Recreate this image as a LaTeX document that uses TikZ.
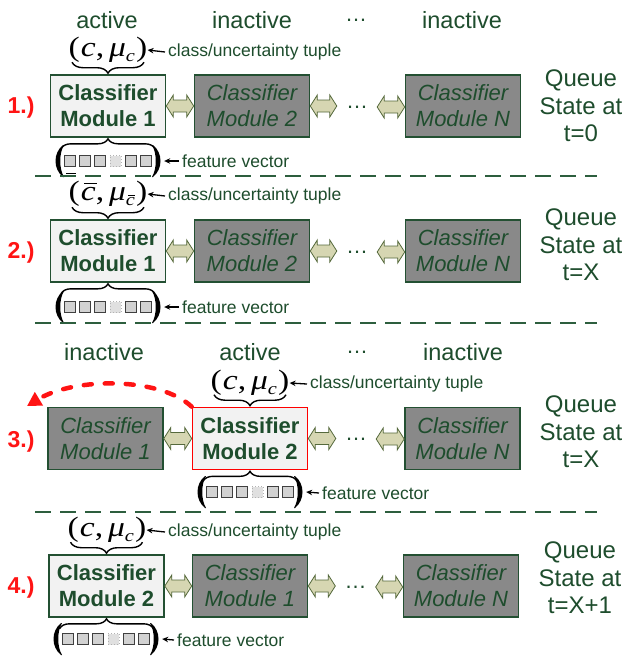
\documentclass[tikz,border=0pt]{standalone}
\usepackage{graphicx}
\usepackage{fontspec}
\setmainfont{Liberation Sans}
\newfontfamily\tupfont{Liberation Serif}
\usetikzlibrary{decorations.pathreplacing,arrows.meta,calc}
\definecolor{dgreen}{RGB}{30,77,45}
\definecolor{boxline}{RGB}{35,80,50}
\definecolor{lightfill}{RGB}{242,242,242}
\definecolor{darkfill}{RGB}{137,137,137}
\definecolor{arrfill}{RGB}{214,214,178}
\definecolor{arrline}{RGB}{85,105,60}
\definecolor{qred}{RGB}{255,20,20}
\definecolor{sqfill}{RGB}{210,210,210}
\definecolor{sepcol}{RGB}{45,94,62}
\newcommand\cbarglyph{\ooalign{\textit{c}\cr\hidewidth\kern0.12em\raisebox{0.6em}{\rule{0.36em}{0.05em}}\hidewidth\cr}}
\newcommand\tupsub[1]{\raisebox{-5pt}{\fontsize{17}{17}\selectfont\itshape #1}}
\newcommand\tuptext[2]{\scalebox{1.2}[1]{\tupfont(\kern1pt#1,\kern4pt\textit{μ}\tupsub{#2}\kern1pt)}}
\tikzset{
  activebox/.style={draw=boxline, line width=1.6pt, fill=lightfill, minimum width=115pt,
    minimum height=62pt, inner sep=0pt, align=center, text=dgreen,
    font=\fontsize{22}{26}\selectfont\bfseries},
  idlebox/.style={activebox, fill=darkfill, font=\fontsize{22}{26}\selectfont\itshape},
  redbox/.style={activebox, draw=red},
  header/.style={text=dgreen, font=\fontsize{23.5}{28}\selectfont, anchor=base, inner sep=0pt},
  queue/.style={text=dgreen, font=\fontsize{24}{27.5}\selectfont, align=center, inner sep=0pt},
  steplabel/.style={text=qred, font=\fontsize{23}{28}\selectfont\bfseries, inner sep=0pt},
  note/.style={text=dgreen, font=\fontsize{17.5}{20}\selectfont, anchor=west, inner xsep=3pt, inner ysep=0pt},
  tuple/.style={font=\fontsize{28}{28}\selectfont, inner sep=0pt},
  dotsnode/.style={text=dgreen, font=\fontsize{22}{22}\selectfont, minimum width=40pt, inner sep=0pt},
  dblarrow/.style={fill=arrfill, draw=arrline, line width=0.8pt, line join=miter},
  notearrow/.style={-{Stealth[length=6pt,width=5.5pt]}, line width=1.3pt, black},
  tbrace/.style={decorate, decoration={brace, amplitude=11pt}, line width=1.4pt, black},
  sq/.style={draw=black!75, fill=sqfill, minimum size=11pt, inner sep=0pt, line width=0.9pt},
  sqdot/.style={draw=black!30, dotted, fill=black!12, minimum size=11pt, inner sep=0pt, line width=0.9pt},
  sepline/.style={draw=sepcol, line width=1.2pt, dash pattern=on 16pt off 9pt},
  redarc/.style={draw=qred, line width=4.5pt, dash pattern=on 8pt off 13pt, line cap=round,
    -{Triangle[length=14pt,width=15pt]}},
  featvec/.pic={
    \node[minimum width=112pt, minimum height=32pt, inner sep=0pt] (-b) at (0,0) {};
    \foreach \i in {-38,-22.8,-7.6,22.8,38} \node[sq] at (\i,0) {};
    \node[sqdot] at (7.6,0) {};
    \fill[black] (-45,16) .. controls (-55,8) and (-55,-8) .. (-45,-16) -- (-44,-16)
      .. controls (-49,-8) and (-49,8) .. (-44,16) -- cycle;
    \fill[black] (45,16) .. controls (55,8) and (55,-8) .. (45,-16) -- (44,-16)
      .. controls (49,-8) and (49,8) .. (44,16) -- cycle;
  }
}
\newcommand\dblarr[2]{%
  \path[dblarrow] let \p1=(#1.east), \p2=(#2.west) in
    (\x1,\y1) -- (\x1+7pt,\y1+11pt) -- (\x1+7pt,\y1+6pt) -- (\x2-7pt,\y1+6pt)
    -- (\x2-7pt,\y1+11pt) -- (\x2,\y1) -- (\x2-7pt,\y1-11pt) -- (\x2-7pt,\y1-6pt)
    -- (\x1+7pt,\y1-6pt) -- (\x1+7pt,\y1-11pt) -- cycle;}
\newcommand\tupbrace[1]{%
  \draw[tbrace] ([xshift=36pt,yshift=12pt]#1.north) -- ([xshift=-36pt,yshift=12pt]#1.north);}
\newcommand\featbrace[1]{%
  \draw[tbrace, decoration={brace, amplitude=10pt}] ([xshift=-47pt,yshift=-11pt]#1.south) -- ([xshift=47pt,yshift=-11pt]#1.south);}
\begin{document}
\begin{tikzpicture}[x=1pt,y=1pt]
\useasboundingbox (0,0) rectangle (627,-657);
\fill[white] (0,0) rectangle (627,-657);

% ---------- Row 1 ----------
\node[header] (h11) at (107,-28) {active};
\node[header] (h12) at (252,-28) {inactive};
\node[dotsnode] (h13) at (356,-20) {…};
\node[header] (h14) at (462,-28) {inactive};

\node[activebox] (B11) at (108,-106) {Classifier\\Module 1};
\node[idlebox] (B12) at (252,-106) {Classifier\\Module 2};
\node[dotsnode] (D1) at (357,-107) {…};
\node[idlebox] (B1N) at (463,-106) {Classifier\\Module N};
\dblarr{B11}{B12}
\dblarr{B12}{D1}
\dblarr{D1}{B1N}
\node[steplabel] (L1) at (21,-108) {1.)};
\node[queue] (Q1) at (581,-106) {Queue\\State at\\t=0};

\node[tuple] (T1) at (108,-50) {\tuptext{\textit{c}}{c}};
\tupbrace{B11}
\node[note] (NT1) at (165,-52) {class/uncertainty tuple};
\draw[notearrow] (NT1.west) -- (T1.east);
\featbrace{B11}
\pic (FV1) at (108,-161) {featvec};
\node[note] (NF1) at (179,-161) {feature vector};
\draw[notearrow] (NF1.west) -- (FV1-b.east);
\draw[line width=1pt] (66,-173.5) -- (76,-173.5);

\draw[sepline] (35,-176) -- (597,-176);

% ---------- Row 2 ----------
\node[activebox] (B21) at (108,-251) {Classifier\\Module 1};
\node[idlebox] (B22) at (252,-251) {Classifier\\Module 2};
\node[dotsnode] (D2) at (357,-252) {…};
\node[idlebox] (B2N) at (463,-251) {Classifier\\Module N};
\dblarr{B21}{B22}
\dblarr{B22}{D2}
\dblarr{D2}{B2N}
\node[steplabel] (L2) at (21,-253) {2.)};
\node[queue] (Q2) at (581,-245) {Queue\\State at\\t=X};

\node[tuple] (T2) at (108,-194) {\tuptext{\cbarglyph}{\cbarglyph}};
\tupbrace{B21}
\node[note] (NT2) at (165,-196) {class/uncertainty tuple};
\draw[notearrow] (NT2.west) -- (T2.east);
\featbrace{B21}
\pic (FV2) at (108,-307) {featvec};
\node[note] (NF2) at (179,-307) {feature vector};
\draw[notearrow] (NF2.west) -- (FV2-b.east);

\draw[sepline] (35,-323) -- (597,-323);

% ---------- Row 3 ----------
\node[header] (h31) at (104,-360) {inactive};
\node[header] (h32) at (250,-360) {active};
\node[dotsnode] (h33) at (357,-352) {…};
\node[header] (h34) at (463,-360) {inactive};

\node[idlebox] (B31) at (105.5,-438.5) {Classifier\\Module 1};
\node[redbox] (B32) at (250,-438.5) {Classifier\\Module 2};
\node[dotsnode] (D3) at (356,-439) {…};
\node[idlebox] (B3N) at (462.5,-438.5) {Classifier\\Module N};
\dblarr{B31}{B32}
\dblarr{B32}{D3}
\dblarr{D3}{B3N}
\node[steplabel] (L3) at (21,-442) {3.)};
\node[queue] (Q3) at (581,-432) {Queue\\State at\\t=X};

\node[tuple] (T3) at (250,-383) {\tuptext{\textit{c}}{c}};
\tupbrace{B32}
\node[note] (NT3) at (307,-384) {class/uncertainty tuple};
\draw[notearrow] (NT3.west) -- (T3.east);
\featbrace{B32}
\pic (FV3) at (250,-492) {featvec};
\node[note] (NF3) at (319,-493) {feature vector};
\draw[notearrow] (NF3.west) -- (FV3-b.east);

\coordinate (arcend) at (27,-406);
\draw[redarc] (B32.north west) .. controls (160,-377) and (75,-377) .. (arcend);

\draw[sepline] (35,-512) -- (597,-512);

% ---------- Row 4 ----------
\node[activebox] (B41) at (106.5,-586) {Classifier\\Module 2};
\node[idlebox] (B42) at (250,-586) {Classifier\\Module 1};
\node[dotsnode] (D4) at (355.5,-587) {…};
\node[idlebox] (B4N) at (461,-586) {Classifier\\Module N};
\dblarr{B41}{B42}
\dblarr{B42}{D4}
\dblarr{D4}{B4N}
\node[steplabel] (L4) at (21,-588) {4.)};
\node[queue] (Q4) at (580,-578) {Queue\\State at\\t=X+1};

\node[tuple] (T4) at (107,-530) {\tuptext{\textit{c}}{c}};
\tupbrace{B41}
\node[note] (NT4) at (165,-532) {class/uncertainty tuple};
\draw[notearrow] (NT4.west) -- (T4.east);
\featbrace{B41}
\pic (FV4) at (106,-639) {featvec};
\node[note] (NF4) at (174,-640) {feature vector};
\draw[notearrow] (NF4.west) -- (FV4-b.east);
\end{tikzpicture}
\end{document}
